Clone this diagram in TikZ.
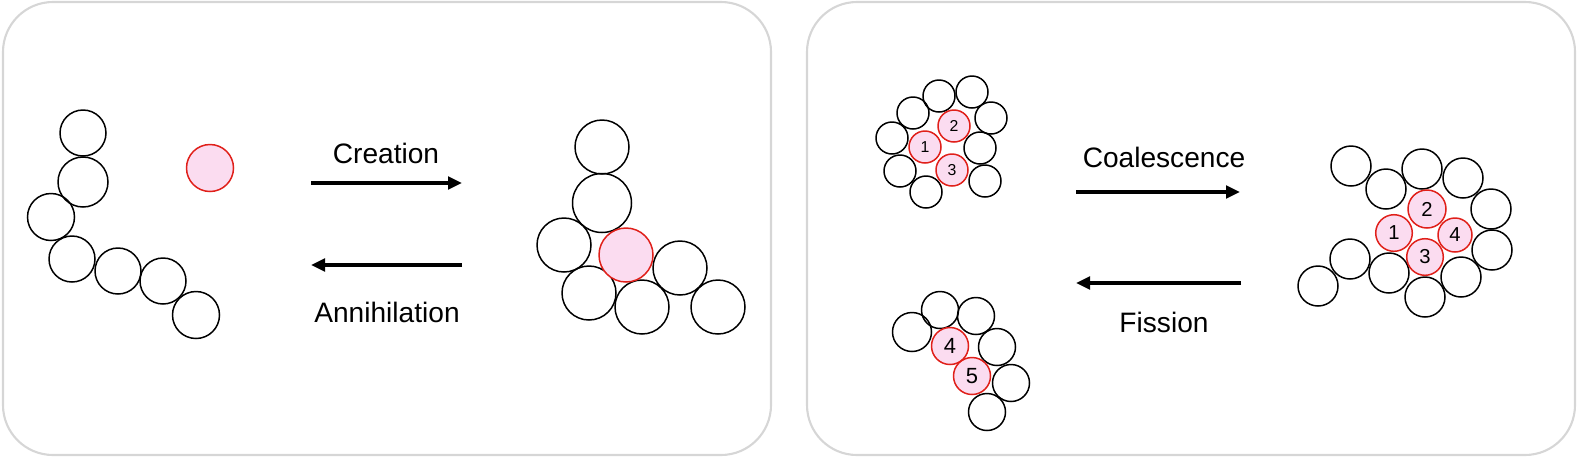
\documentclass[tikz,border=0pt]{standalone}
\usepackage{fontspec}
\setmainfont{Liberation Sans}
\usetikzlibrary{arrows.meta}
\definecolor{beadpink}{HTML}{FBDCF0}
\definecolor{beadred}{HTML}{E0201A}
\definecolor{panelgray}{HTML}{D6D6D6}
\tikzset{
  panel/.style={draw=panelgray, line width=1.2pt, rounded corners=1cm},
  bead/.style={draw=black, line width=0.85pt},
  hole/.style={draw=beadred, fill=beadpink, line width=0.85pt},
  react/.style={line width=2pt, -{Triangle[length=0.28cm,width=0.25cm]}},
  lbl/.style={font=\fontsize{16}{19}\selectfont},
  numsmall/.style={font=\fontsize{9}{11}\selectfont, inner sep=0pt},
  nummid/.style={font=\fontsize{11.5}{13}\selectfont, inner sep=0pt},
  numbig/.style={font=\fontsize{12.5}{14}\selectfont, inner sep=0pt}
}
\begin{document}
\begin{tikzpicture}[x=0.02cm, y=-0.02cm]
\useasboundingbox (0,0) rectangle (1578,457);
%Panels
\draw[panel] (3,2) rectangle (771,455);
\draw[panel] (807,2) rectangle (1575,455);

%Creation / Annihilation
  %open chain + free hole
  \foreach \x/\y/\r in {83/133/23, 83/182/25, 51/217/23.5, 72/259/23, 118/271/23, 163/281/23, 196/315/23.5}
    \draw[bead] (\x,\y) circle (\r);
  \draw[hole] (210,168) circle (23.5);
  %closed cluster
  \foreach \x/\y/\r in {602/147/27, 602/203/29.5, 564/245/27, 680/268/27, 589/293/27, 642/307/27, 718/307/27}
    \draw[bead] (\x,\y) circle (\r);
  \draw[hole] (626,255) circle (27);
  %arrows
  \node[lbl] (cre) at (386,153) {Creation};
  \coordinate (cre-s) at (311,183);
  \coordinate (cre-e) at (462,183);
  \draw[react] (cre-s) -- (cre-e);
  \node[lbl] (ann) at (387,312) {Annihilation};
  \coordinate (ann-s) at (462,265);
  \coordinate (ann-e) at (311,265);
  \draw[react] (ann-s) -- (ann-e);

%Coalescence / Fission
  %upper small cluster
  \foreach \x/\y in {939/96, 972/92, 913/113, 991/118, 892/138, 980/148, 900/171, 985/181, 926/192}
    \draw[bead] (\x,\y) circle (16);
  \foreach \x/\y/\t in {954/126/2, 925/147/1, 952/170/3} {
    \draw[hole] (\x,\y) circle (16);
    \node[numsmall] (a\t) at (\x,\y) {\t};
  }
  %lower small cluster
  \draw[bead] (912,332) circle (19.5);
  \foreach \x/\y in {940/310, 976/316, 997/347, 1011/383, 987/412}
    \draw[bead] (\x,\y) circle (18.5);
  \foreach \x/\y/\t in {950/346/4, 972/376/5} {
    \draw[hole] (\x,\y) circle (18.5);
    \node[numbig] (b\t) at (\x,\y) {\t};
  }
  %merged cluster
  \foreach \x/\y in {1351/166, 1386/189, 1422/169, 1463/178, 1491/209, 1492/250, 1350/259, 1318/286, 1389/273, 1461/277, 1425/297}
    \draw[bead] (\x,\y) circle (20);
  \foreach \x/\y/\r/\t in {1427/209/19/2, 1394/233/18.3/1, 1455/235/17/4, 1425/257/18.3/3} {
    \draw[hole] (\x,\y) circle (\r);
    \node[nummid] (c\t) at (\x,\y) {\t};
  }
  %arrows
  \node[lbl] (coa) at (1164,157) {Coalescence};
  \coordinate (coa-s) at (1076,192);
  \coordinate (coa-e) at (1240,192);
  \draw[react] (coa-s) -- (coa-e);
  \node[lbl] (fis) at (1164,322) {Fission};
  \coordinate (fis-s) at (1241,283);
  \coordinate (fis-e) at (1076,283);
  \draw[react] (fis-s) -- (fis-e);
\end{tikzpicture}
\end{document}
